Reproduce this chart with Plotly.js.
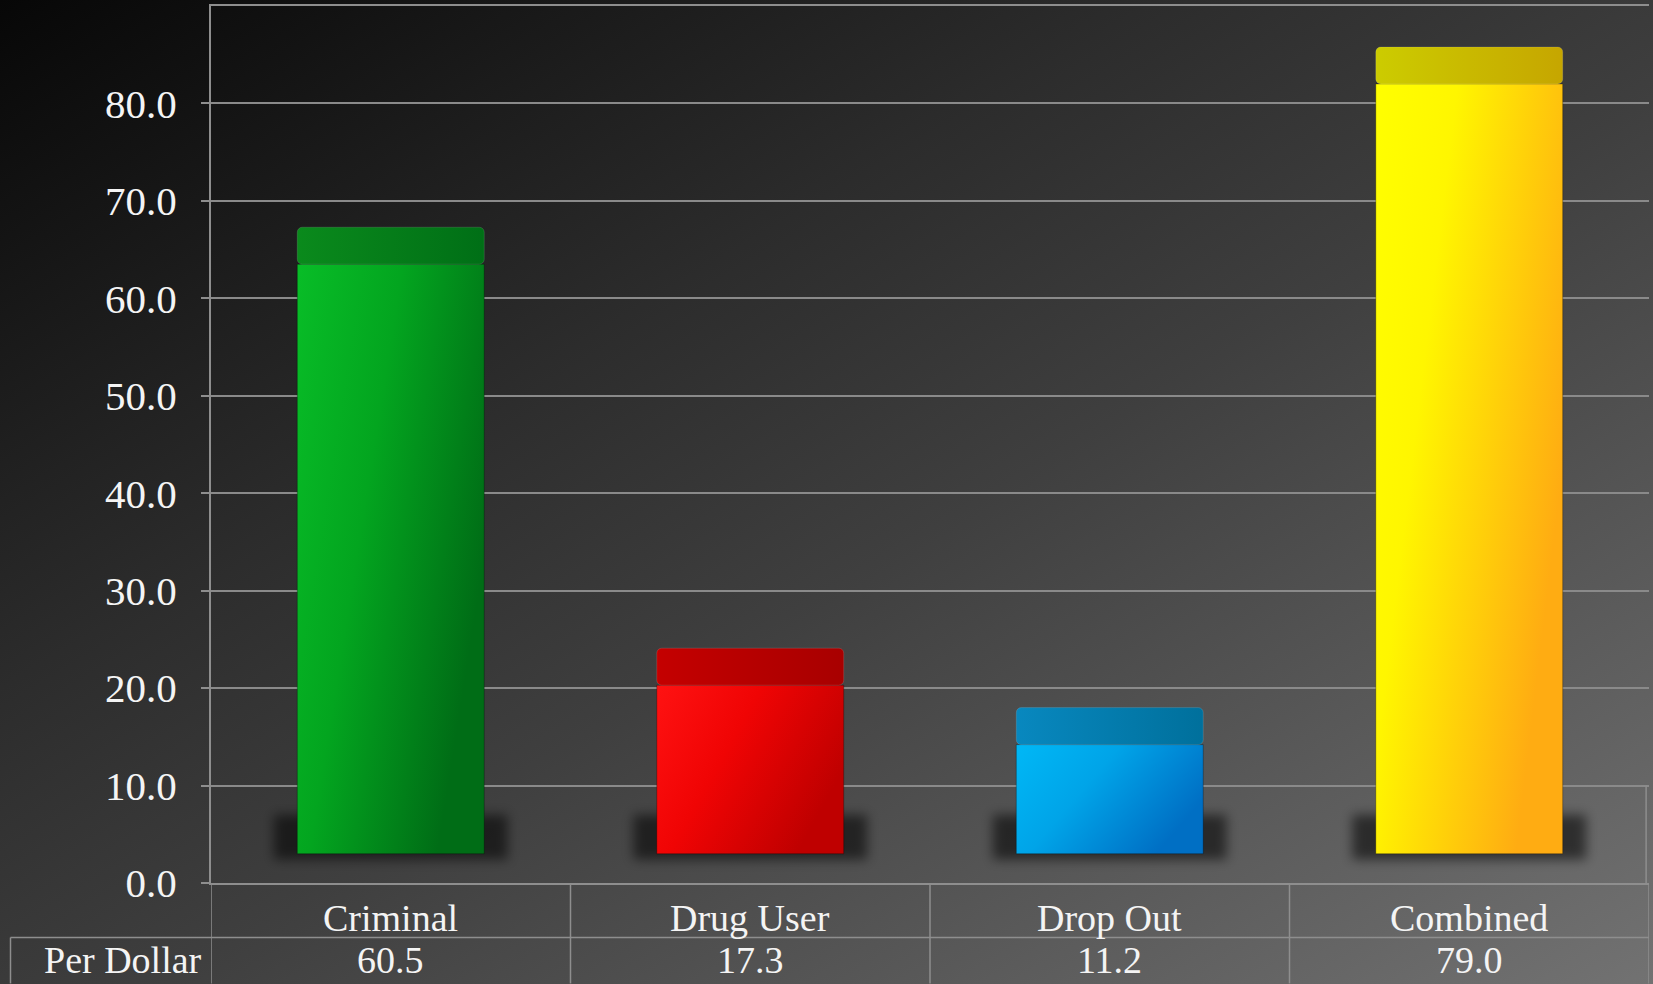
<!DOCTYPE html>
<html>
<head>
<meta charset="utf-8">
<script src="https://cdn.plot.ly/plotly-3.0.1.min.js"></script>
<style>
  html, body { margin: 0; padding: 0; }
  body {
    width: 1653px; height: 984px; overflow: hidden;
    background: linear-gradient(to bottom right, #070707 0%, #2c2c2c 35%, #3f3f3f 55%, #727272 100%);
  }
  #chart { width: 1653px; height: 984px; }
</style>
</head>
<body>
<div id="chart"></div>
<script>
// ---- data ----
const categories = ['Criminal', 'Drug User', 'Drop Out', 'Combined'];
const perDollar = [60.5, 17.3, 11.2, 79.0];
const rowLabel = 'Per Dollar';
const yTickVals = [0, 10, 20, 30, 40, 50, 60, 70, 80];
const yTickText = ['0.0', '10.0', '20.0', '30.0', '40.0', '50.0', '60.0', '70.0', '80.0'];

// ---- style ----
const FLOOR = 3;        // visual floor of the 3D bars
const CAP = 3.8;        // depth of the top face
const FONT = 'Liberation Serif, Times New Roman, serif';
const frontColors = ['#05a821', '#f00000', '#00a0e6', '#ffe800'];
const capColors = ['#067d18', '#b80000', '#047fb5', '#c8bd00'];
const grads = [
  [['0', '#08bd27'], ['0.45', '#03a51f'], ['1', '#006d16']],
  [['0', '#ff1212'], ['0.45', '#f00404'], ['1', '#bf0000']],
  [['0', '#00b8f6'], ['0.45', '#00a4e8'], ['1', '#006fc4']],
  [['0', '#ffff00'], ['0.35', '#fff600'], ['1', '#ffac12']]
];
const capGrads = [
  [['0', '#0a8a1c'], ['1', '#006f16']],
  [['0', '#c40000'], ['1', '#a80000']],
  [['0', '#0888bf'], ['1', '#00709c']],
  [['0', '#cccc00'], ['1', '#c6a600']]
];

const capBase = perDollar.map(v => v + FLOOR);

const traces = [
  { // soft shadow under each bar
    type: 'bar', x: categories, y: categories.map(() => 4.6), base: categories.map(() => FLOOR - 0.6),
    width: 0.65, marker: { color: 'rgba(0,0,0,0.55)' }, hoverinfo: 'skip', showlegend: false
  },
  { // front face
    type: 'bar', x: categories, y: perDollar, base: categories.map(() => FLOOR),
    width: 0.52, marker: { color: frontColors, line: { color: 'rgba(0,0,0,0.3)', width: 1 } },
    showlegend: false
  },
  { // top face
    type: 'bar', x: categories, y: categories.map(() => CAP), base: capBase,
    width: 0.52, marker: { color: capColors, cornerradius: 5, line: { color: 'rgba(255,255,255,0.12)', width: 1 } },
    hoverinfo: 'skip', showlegend: false
  }
];

// table geometry (paper coords)
const plotL = 211, plotR = 1649, plotT = 6, plotB = 883.5, W = 1653, H = 984;
const pw = plotR - plotL, ph = plotB - plotT;
const py = px => (plotB - px) / ph;
const pxX = px => (px - plotL) / pw;

const lineStyle = { color: '#8e8e8e', width: 1.5 };
const shapes = [];
for (let i = 0; i <= categories.length; i++) {
  shapes.push({ type: 'line', xref: 'x', yref: 'paper', x0: i - 0.5, x1: i - 0.5, y0: 0, y1: py(H), line: lineStyle });
}
shapes.push({ type: 'line', xref: 'paper', yref: 'paper', x0: pxX(10.5), x1: 1, y0: py(938), y1: py(938), line: lineStyle });
shapes.push({ type: 'line', xref: 'paper', yref: 'paper', x0: pxX(10.5), x1: pxX(10.5), y0: py(938), y1: py(H), line: lineStyle });
shapes.push({ type: 'line', xref: 'paper', yref: 'y', x0: 0.998, x1: 0.998, y0: 0, y1: 10, line: lineStyle });

const annotations = [];
categories.forEach((c, i) => {
  annotations.push({ xref: 'x', yref: 'paper', x: i, y: py(919), text: c, showarrow: false,
    xanchor: 'center', yanchor: 'middle', font: { family: FONT, size: 38, color: '#f4f4f4' } });
  annotations.push({ xref: 'x', yref: 'paper', x: i, y: py(961), text: perDollar[i].toFixed(1), showarrow: false,
    xanchor: 'center', yanchor: 'middle', font: { family: FONT, size: 38, color: '#f4f4f4' } });
});
annotations.push({ xref: 'paper', yref: 'paper', x: pxX(204), y: py(961), text: rowLabel, showarrow: false,
  xanchor: 'right', yanchor: 'middle', font: { family: FONT, size: 38, color: '#f4f4f4' } });

const layout = {
  width: W, height: H,
  margin: { l: plotL, r: W - plotR, t: plotT, b: H - plotB, pad: 0 },
  paper_bgcolor: 'rgba(0,0,0,0)', plot_bgcolor: 'rgba(0,0,0,0)',
  barmode: 'overlay',
  showlegend: false,
  xaxis: {
    type: 'category', categoryarray: categories, range: [-0.5, categories.length - 0.5],
    showticklabels: false, ticks: '', showgrid: false, zeroline: false,
    showline: true, mirror: true, linecolor: '#8e8e8e', linewidth: 2
  },
  yaxis: {
    range: [0, 90], tickvals: yTickVals, ticktext: yTickText,
    showgrid: true, gridcolor: '#8a8a8a', gridwidth: 2, zeroline: false,
    showline: true, linecolor: '#8e8e8e', linewidth: 2,
    ticks: 'outside', ticklen: 8, tickwidth: 2, tickcolor: '#8e8e8e',
    ticklabelstandoff: 16,
    tickfont: { family: FONT, size: 41, color: '#f4f4f4' }
  },
  shapes, annotations
};

Plotly.newPlot('chart', traces, layout, { displayModeBar: false, staticPlot: true }).then(gd => {
  const svg = gd.querySelector('svg.main-svg');
  const NS = 'http://www.w3.org/2000/svg';
  let defs = svg.querySelector('defs');
  if (!defs) { defs = document.createElementNS(NS, 'defs'); svg.insertBefore(defs, svg.firstChild); }
  function mkGrad(id, stops, x2, y2) {
    const g = document.createElementNS(NS, 'linearGradient');
    g.setAttribute('id', id);
    g.setAttribute('x1', '0'); g.setAttribute('y1', '0');
    g.setAttribute('x2', x2); g.setAttribute('y2', y2);
    stops.forEach(([o, c]) => {
      const s = document.createElementNS(NS, 'stop');
      s.setAttribute('offset', o); s.setAttribute('stop-color', c);
      g.appendChild(s);
    });
    defs.appendChild(g);
  }
  grads.forEach((s, i) => mkGrad('fg' + i, s, '1', '0.5'));
  capGrads.forEach((s, i) => mkGrad('cg' + i, s, '1', '0'));
  const f = document.createElementNS(NS, 'filter');
  f.setAttribute('id', 'blurShadow');
  f.setAttribute('x', '-30%'); f.setAttribute('y', '-80%');
  f.setAttribute('width', '160%'); f.setAttribute('height', '260%');
  const b = document.createElementNS(NS, 'feGaussianBlur');
  b.setAttribute('stdDeviation', '6');
  f.appendChild(b); defs.appendChild(f);

  const trs = gd.querySelectorAll('g.barlayer g.trace');
  if (trs.length >= 3) {
    trs[0].querySelectorAll('g.point path').forEach(p => p.setAttribute('filter', 'url(#blurShadow)'));
    trs[1].querySelectorAll('g.point path').forEach((p, i) => { p.style.fill = 'url(#fg' + i + ')'; });
    trs[2].querySelectorAll('g.point path').forEach((p, i) => { p.style.fill = 'url(#cg' + i + ')'; });
  }
});
</script>
</body>
</html>
